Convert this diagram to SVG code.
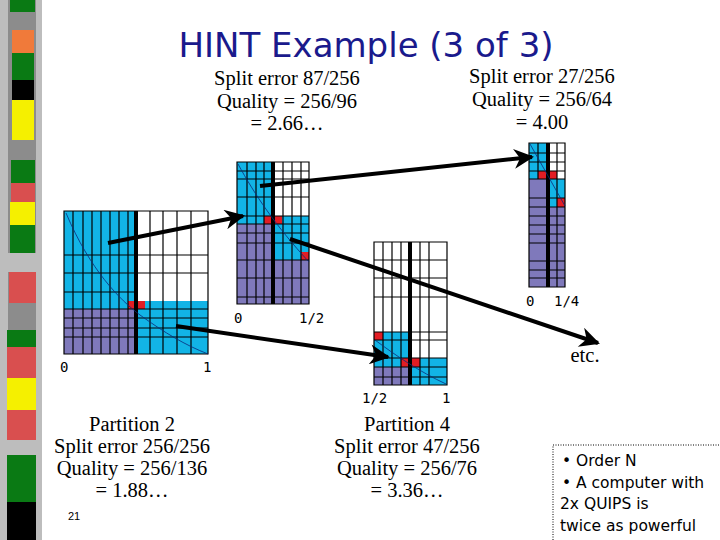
<svg xmlns="http://www.w3.org/2000/svg" width="720" height="540" viewBox="0 0 720 540">
<defs>
<marker id="ah" viewBox="0 0 10 10" refX="9" refY="5" markerWidth="6" markerHeight="5" orient="auto" markerUnits="strokeWidth"><path d="M0,0 L10,5 L0,10 L3,5 Z" fill="#000"/></marker>
</defs>
<style>
.b{fill:#12b4e6}.p{fill:#7f79bb}.r{fill:#e21d24}.w{fill:#fff}
.g{stroke:#000;stroke-width:1.2;fill:none}
.t{stroke:#000;stroke-width:4}
.c{stroke:#0b2a7a;stroke-width:0.8;fill:none}
.lab{font-family:"Liberation Serif",serif;font-size:20.5px;fill:#000;text-anchor:middle}
.ax{font-family:"DejaVu Sans Mono",monospace;font-size:14px;fill:#000}
.con{stroke:#000;stroke-width:4;fill:none}
</style>
<rect width="720" height="540" fill="#fff"/>
<g id="strip">
<rect x="0" y="0" width="42" height="540" fill="#bdbdbd"/>
<rect x="8" y="0" width="28" height="540" fill="#8c8c8c"/>
<rect x="10" y="0" width="25" height="12" fill="#0a7a14"/>
<rect x="12" y="30" width="22" height="23" fill="#f07a3a"/>
<rect x="12" y="53" width="22" height="27" fill="#0a7a14"/>
<rect x="12" y="80" width="22" height="20" fill="#000"/>
<rect x="12" y="100" width="22" height="40" fill="#f5f000"/>
<rect x="11" y="160" width="24" height="23" fill="#0a7a14"/>
<rect x="11" y="183" width="24" height="19" fill="#d94f4f"/>
<rect x="10" y="202" width="25" height="23" fill="#f5f000"/>
<rect x="10" y="225" width="25" height="28" fill="#0a7a14"/>
<rect x="8" y="253" width="28" height="19" fill="#bdbdbd"/>
<rect x="9" y="272" width="27" height="31" fill="#d94f4f"/>
<rect x="7" y="330" width="29" height="17" fill="#0a7a14"/>
<rect x="7" y="347" width="29" height="31" fill="#d94f4f"/>
<rect x="7" y="378" width="29" height="32" fill="#f5f000"/>
<rect x="7" y="410" width="29" height="30" fill="#d94f4f"/>
<rect x="7" y="440" width="29" height="15" fill="#bdbdbd"/>
<rect x="7" y="455" width="29" height="47" fill="#0a7a14"/>
<rect x="7" y="502" width="29" height="38" fill="#000"/>
</g>
<text x="366" y="57" font-family="DejaVu Sans,sans-serif" font-size="34" fill="#1a1a8c" text-anchor="middle">HINT Example (3 of 3)</text>
<g id="partition2">
<rect class="b" x="64" y="211" width="72" height="98"/>
<rect class="p" x="64" y="309" width="72" height="45"/>
<rect class="b" x="136" y="301" width="72" height="53"/>
<rect class="r" x="128" y="301" width="17" height="8"/>
<path class="g" d="M64,211H208V354H64Z M73,211V354 M83,211V354 M92,211V354 M101,211V354 M110,211V354 M119,211V354 M128,211V354 M150,211V354 M163,211V354 M177,211V354 M191,211V354 M64,255H208 M64,273H208 M64,292H136 M64,309H208 M64,318H208 M64,328H208 M64,337H208"/>
<line class="t" x1="136" y1="211" x2="136" y2="354"/>
<path class="c" d="M66,213 C90,270 120,300 140,315 C165,333 185,345 208,354"/>
<text class="ax" x="60" y="372">0</text><text class="ax" x="203" y="372">1</text>
<text class="lab" x="132" y="431">Partition 2</text>
<text class="lab" x="132" y="453">Split error 256/256</text>
<text class="lab" x="132" y="475">Quality = 256/136</text>
<text class="lab" x="132" y="497">= 1.88…</text>
</g>
<g id="middle">
<rect class="b" x="237" y="162" width="36" height="62"/>
<rect class="p" x="237" y="224" width="36" height="80"/>
<rect class="b" x="273" y="216" width="36" height="44"/>
<rect class="p" x="273" y="260" width="36" height="44"/>
<rect class="r" x="264" y="216" width="18" height="8"/>
<rect class="r" x="301" y="252" width="8" height="8"/>
<path class="g" d="M237,162H309V304H237Z M247,162V304 M256,162V304 M264,162V304 M283,162V304 M292,162V304 M301,162V304 M237,171H309 M237,179H309 M237,197H309 M237,216H309 M237,224H309 M237,233H309 M237,243H309 M237,260H309 M237,278H309 M237,297H309"/>
<line class="t" x1="273" y1="162" x2="273" y2="304"/>
<path class="c" d="M238,164 C255,195 275,225 309,262"/>
<text class="ax" x="234" y="323">0</text><text class="ax" x="299" y="323">1/2</text>
<text class="lab" x="287" y="85">Split error 87/256</text>
<text class="lab" x="287" y="108">Quality = 256/96</text>
<text class="lab" x="287" y="130">= 2.66…</text>
</g>
<g id="partition4">
<rect class="b" x="374" y="332" width="36" height="35"/>
<rect class="p" x="374" y="367" width="36" height="18"/>
<rect class="b" x="410" y="358" width="37" height="27"/>
<rect class="r" x="374" y="332" width="9" height="8"/>
<rect class="r" x="401" y="358" width="19" height="9"/>
<path class="g" d="M374,242H447V385H374Z M383,242V385 M392,242V385 M401,242V385 M420,242V385 M429,242V385 M374,260H447 M374,278H447 M374,297H447 M374,332H447 M374,340H447 M374,358H447 M374,367H447 M374,377H447"/>
<line class="t" x1="410" y1="242" x2="410" y2="385"/>
<path class="c" d="M375,340 C395,355 420,372 446,384"/>
<text class="ax" x="362" y="403">1/2</text><text class="ax" x="442" y="403">1</text>
<text class="lab" x="407" y="431">Partition 4</text>
<text class="lab" x="407" y="453">Split error 47/256</text>
<text class="lab" x="407" y="475">Quality = 256/76</text>
<text class="lab" x="407" y="497">= 3.36…</text>
</g>
<g id="right">
<rect class="b" x="529" y="143" width="19" height="36"/>
<rect class="p" x="529" y="179" width="19" height="108"/>
<rect class="b" x="548" y="179" width="17" height="28"/>
<rect class="p" x="548" y="207" width="17" height="80"/>
<rect class="r" x="538" y="171" width="19" height="8"/>
<rect class="r" x="557" y="198" width="8" height="9"/>
<path class="g" d="M529,143H565V287H529Z M538,143V179 M557,143V287 M529,153H565 M529,162H565 M529,171H565 M529,179H565 M529,198H565 M529,207H565 M529,216H565 M529,225H565 M529,234H565 M529,243H565 M529,261H565 M529,270H565 M529,278H565"/>
<line class="t" x1="548" y1="143" x2="548" y2="287"/>
<path class="c" d="M530,144 L565,206"/>
<text class="ax" x="526" y="306">0</text><text class="ax" x="554" y="306">1/4</text>
<text class="lab" x="542" y="83">Split error 27/256</text>
<text class="lab" x="542" y="106">Quality = 256/64</text>
<text class="lab" x="542" y="129">= 4.00</text>
<text class="lab" x="585" y="362">etc.</text>
</g>
<g id="connectors">
<line class="con" x1="108" y1="243" x2="243" y2="216" marker-end="url(#ah)"/>
<line class="con" x1="260" y1="186" x2="532" y2="157" marker-end="url(#ah)"/>
<line class="con" x1="290" y1="239" x2="598" y2="343" marker-end="url(#ah)"/>
<line class="con" x1="176" y1="326" x2="388" y2="357" marker-end="url(#ah)"/>
</g>
<text x="68" y="520" font-family="Liberation Sans,sans-serif" font-size="11">21</text>
<g id="note">
<path d="M553,540V445H720" fill="none" stroke="#000" stroke-width="1" stroke-dasharray="1,1.5"/>
<g font-family="DejaVu Sans,sans-serif" font-size="15.5" fill="#000">
<text x="562" y="466">• Order N</text>
<text x="562" y="488">• A computer with</text>
<text x="560" y="509">2x QUIPS is</text>
<text x="560" y="531">twice as powerful</text>
</g>
</g>
</svg>
